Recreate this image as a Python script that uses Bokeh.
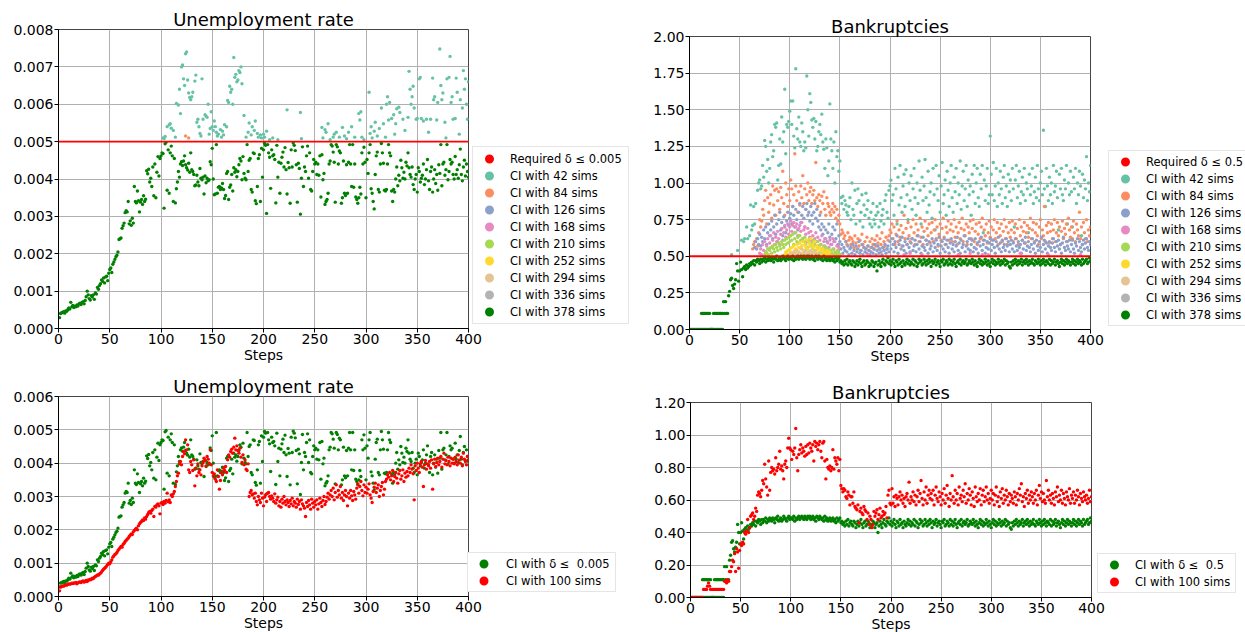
import numpy as np
from bokeh.plotting import figure
from bokeh.models import Range1d, FixedTicker, NumeralTickFormatter, Span, Legend, LegendItem
from bokeh.layouts import column, row
from bokeh.embed import file_html
from bokeh.resources import INLINE

_ = None  # step where the series is not visible

# ---------------- data ----------------
x_ticks = [0, 50, 100, 150, 200, 250, 300, 350, 400]
unemp_ticks = [0.0, 0.001, 0.002, 0.003, 0.004, 0.005, 0.006, 0.007, 0.008]
unemp_ticks_b = [0.0, 0.001, 0.002, 0.003, 0.004, 0.005, 0.006]
bank_ticks = [0.0, 0.25, 0.5, 0.75, 1.0, 1.25, 1.5, 1.75, 2.0]
bank_ticks_b = [0.0, 0.2, 0.4, 0.6, 0.8, 1.0, 1.2]
unemp_required = 0.005
bank_required = 0.5
UNEMP_UNIT = 1e-5   # unemployment values below are in units of 1e-5
BANK_UNIT = 0.01    # bankruptcy values below are in units of 0.01

# Unemployment, CI with 378 sims (also "CI with delta <= 0.005"), steps 1..400
unemp_378 = [
    29, 40, 42, 43, 45, 41, 47, 46, 50, 55, 52, 70, 58, 62, 56, 60, 58, 63, 60, 66,
    68, 64, 70, 72, 66, 75, 85, 100, 90, 80, 76, 88, 84, 90, 78, 95, 92, 110, 105, 115,
    120, 130, 126, 135, 122, 138, 140, 128, 148, 158, 162, 150, 172, 178, 185, 192, 196, 205, 238, 240,
    242, 268, 275, 282, 310, 315, 312, 340, 280, 288, 276, 295, 282, 380, 340, 336, 368, 342, 312, 338,
    345, 332, 355, 340, 346, 422, 414, 426, 392, 402, 380, 432, 355, 440, 350, 418, 460, 408, 455, 462,
    470, 468, 322, 494, 498, 370, 478, 362, 470, 488, 462, 340, 455, 336, 374, 392, 420, 405, 440, 446,
    436, 448, 462, 438, 430, 424, 442, 418, 470, 425, 420, 412, 382, 384, 410, 392, 382, 428, 402, 398,
    405, 360, 408, 390, 402, 395, 398, 446, 438, 482, 400, 358, 360, 492, 362, 378, 380, 372, 376, 388,
    372, 348, 356, 415, 420, 345, 378, 384, 412, 368, 430, 418, 425, 406, 420, 438, 455, 448, 398, 460,
    415, 402, 398, 492, 420, 450, 455, 372, 365, 470, 468, 342, 334, 380, 455, 465, 340, 482, 405, 478,
    495, 490, 308, 492, 470, 458, 375, 478, 462, 465, 452, 336, 490, 405, 445, 362, 442, 458, 472, 432,
    484, 425, 360, 444, 430, 335, 478, 432, 496, 490, 476, 438, 338, 442, 428, 306, 402, 486, 380, 432,
    420, 462, 488, 402, 470, 372, 368, 420, 452, 440, 445, 412, 440, 410, 462, 352, 465, 398, 415, 332,
    340, 345, 362, 440, 448, 492, 488, 472, 445, 338, 492, 486, 440, 475, 470, 335, 350, 448, 362, 356,
    438, 362, 445, 492, 440, 380, 492, 378, 440, 352, 345, 335, 350, 378, 360, 470, 440, 485, 445, 350,
    452, 415, 470, 492, 374, 362, 340, 320, 412, 462, 472, 372, 365, 440, 495, 470, 442, 370, 368, 372,
    440, 492, 470, 462, 368, 340, 372, 365, 400, 432, 382, 410, 395, 450, 430, 402, 418, 400, 445, 435,
    470, 430, 412, 405, 432, 385, 372, 400, 412, 365, 430, 420, 392, 402, 410, 440, 385, 400, 425, 452,
    395, 372, 420, 432, 365, 400, 425, 388, 412, 370, 438, 415, 492, 382, 440, 445, 410, 425, 492, 398,
    420, 452, 440, 445, 412, 400, 460, 412, 425, 402, 438, 480, 412, 395, 432, 450, 408, 440, 420, 405,
]

# Unemployment, CI with 42 sims, steps 101..400 (shown only above the requirement)
unemp_42_start = 101
unemp_42 = [
    _, 510, 508, 514, _, 540, _, 545, 548, 536, _, 530, _, 512, 602, _, 598, 640, 575, 700,
    705, 668, 650, 735, 740, 665, 630, 618, 612, 620, 632, _, 662, 678, 552, 560, 540, 522, 515, 668,
    560, _, 572, 568, 565, 600, 520, 535, 580, 540, 530, 555, 540, 525, 515, 520, _, 532, 512, 528,
    518, 545, _, 540, 610, 605, 648, 632, 640, 600, 725, 672, 680, 660, 665, 690, 685, 700, 655, _,
    570, _, 512, _, 525, 550, _, 518, 540, _, 530, 555, _, 522, 512, _, 518, 510, _, 520,
    512, _, 528, _, _, 505, _, _, 510, _, _, _, _, 505, _, _, _, _, _, _,
    _, _, 585, _, _, _, _, _, _, _, _, _, _, _, _, 578, 508, _, _, _,
    _, _, _, _, _, _, _, _, _, _, _, _, _, _, _, _, 538, 510, _, 532,
    525, _, 548, _, 505, _, _, 512, 520, _, 525, _, _, 512, _, _, 538, _, 515, _,
    508, _, 525, _, _, 540, _, _, 512, _, _, _, 575, 558, 580, 512, _, 505, _, _,
    _, _, 632, 522, 540, 510, _, 528, 552, _, 515, _, 535, _, 590, _, 548, _, 512, 600,
    620, 558, 605, _, 562, _, 572, 520, 548, 588, _, 592, 578, _, _, 560, _, 530, _, _,
    565, 688, 640, 600, 620, 648, 590, _, 560, 562, _, 668, 672, 562, _, 555, _, _, 560, _,
    525, _, 560, _, 670, 612, 620, _, 558, 605, _, 748, 650, 612, 630, _, 552, 510, 668, _,
    672, 728, 605, 620, 560, _, 562, 670, 632, _, 520, 612, _, 590, 690, 640, 668, 600, 560, 660,
]

# Unemployment, CI with 84 sims (only two points visible)
unemp_84_steps = [124, 127]
unemp_84 = [515, 510]

# Unemployment, CI with 100 sims, steps 1..400
unemp_100 = [
    17, 28, 30, 32, 31, 33, 35, 34, 36, 38, 37, 38, 40, 39, 41, 40, 42, 38, 41, 43,
    44, 42, 45, 47, 43, 46, 48, 45, 50, 49, 52, 51, 55, 54, 58, 60, 62, 65, 64, 68,
    70, 74, 78, 82, 85, 88, 92, 96, 100, 98, 104, 110, 118, 122, 126, 128, 132, 138, 142, 146,
    150, 148, 156, 160, 165, 168, 172, 175, 180, 184, 188, 186, 194, 198, 202, 205, 200, 212, 218, 222,
    225, 230, 228, 236, 232, 240, 246, 252, 255, 250, 258, 262, 240, 270, 268, 275, 278, 272, 248, 280,
    282, 276, 285, 280, 288, 310, 284, 290, 282, 305, 300, 308, 315, 330, 345, 362, 370, 398, 405, 395,
    420, 435, 428, 470, 440, 455, 380, 372, 405, 395, 378, 410, 332, 385, 362, 398, 372, 380, 365, 392,
    402, 415, 408, 392, 420, 412, 400, 440, 395, 372, 362, 368, 352, 345, 380, 360, 322, 348, 372, 365,
    385, 378, 390, 372, 410, 425, 418, 435, 442, 430, 448, 475, 440, 452, 438, 430, 445, 418, 402, 425,
    395, 410, 382, 378, 398, 300, 312, 318, 305, 308, 295, 310, 285, 275, 300, 290, 282, 310, 295, 272,
    298, 305, 285, 310, 312, 300, 292, 302, 295, 285, 308, 280, 290, 298, 272, 285, 268, 292, 280, 300,
    285, 275, 290, 282, 270, 288, 278, 295, 272, 285, 280, 268, 292, 276, 285, 262, 290, 278, 272, 265,
    240, 282, 270, 288, 275, 262, 292, 280, 268, 285, 275, 290, 262, 278, 295, 282, 270, 288, 300, 276,
    285, 298, 310, 292, 305, 318, 300, 325, 290, 312, 335, 298, 318, 305, 330, 295, 312, 288, 305, 318,
    300, 272, 310, 295, 318, 302, 288, 315, 305, 292, 325, 338, 310, 330, 345, 318, 302, 335, 312, 328,
    310, 322, 338, 305, 295, 282, 315, 328, 340, 312, 325, 335, 300, 318, 330, 342, 305, 322, 345, 352,
    365, 358, 372, 350, 362, 378, 345, 360, 372, 355, 340, 368, 378, 352, 362, 380, 345, 370, 358, 375,
    362, 385, 372, 395, 382, 368, 290, 392, 378, 400, 385, 372, 398, 405, 388, 330, 395, 408, 382, 398,
    392, 405, 385, 410, 322, 398, 412, 390, 402, 415, 395, 405, 420, 388, 412, 430, 398, 408, 395, 418,
    405, 392, 415, 400, 412, 398, 418, 405, 395, 425, 410, 400, 418, 392, 430, 412, 405, 395, 420, 410,
]

# Bankruptcies, CI with 378 sims (also "CI with delta <= 0.5"), steps 1..400
bank_378 = [
    0, 0, 0, 0, 0, 0, 0, 0, 0, 0, 0, 11, 11, 11, 11, 11, 11, 11, 11, 11,
    0, 0, 0, 11, 11, 11, 11, 11, 11, 11, 11, 11, 11, 19, 11, 19, 11, 11, 23, 26,
    34, 35, 30, 28, 31, 34, 45, 40, 33, 40, 46, 41, 36, 42, 43, 41, 44, 42, 43, 45,
    44, 46, 45, 47, 44, 47, 46, 48, 47, 45, 48, 46, 48, 47, 49, 46, 48, 47, 49, 48,
    47, 49, 48, 46, 49, 48, 50, 47, 48, 49, 47, 48, 50, 49, 48, 47, 49, 50, 48, 49,
    49, 48, 50, 47, 49, 48, 49, 50, 48, 49, 50, 49, 48, 50, 49, 48, 50, 49, 50, 48,
    49, 50, 48, 49, 47, 50, 49, 48, 50, 49, 48, 49, 47, 50, 48, 49, 47, 48, 49, 47,
    48, 49, 47, 48, 46, 49, 47, 48, 49, 46, 47, 45, 46, 44, 47, 45, 48, 44, 46, 47,
    45, 44, 47, 46, 43, 45, 47, 44, 46, 48, 45, 43, 46, 47, 44, 45, 47, 46, 43, 45,
    44, 47, 46, 43, 45, 46, 40, 44, 47, 45, 43, 46, 48, 45, 44, 47, 46, 49, 45, 47,
    44, 46, 48, 45, 43, 47, 46, 44, 48, 45, 46, 43, 47, 45, 44, 46, 48, 45, 47, 44,
    46, 45, 48, 44, 47, 46, 43, 45, 48, 46, 47, 44, 45, 48, 46, 44, 47, 45, 48, 46,
    43, 47, 45, 46, 48, 44, 46, 47, 45, 43, 47, 46, 48, 44, 45, 47, 46, 44, 48, 45,
    47, 44, 46, 48, 45, 43, 46, 47, 45, 48, 44, 46, 47, 45, 46, 48, 44, 45, 47, 46,
    45, 48, 46, 44, 47, 45, 43, 46, 48, 45, 47, 44, 46, 45, 48, 46, 44, 47, 45, 43,
    46, 48, 45, 47, 44, 46, 45, 48, 46, 44, 47, 45, 46, 48, 44, 47, 45, 46, 43, 42,
    46, 44, 47, 45, 48, 46, 44, 47, 45, 46, 48, 44, 46, 47, 45, 48, 46, 44, 47, 45,
    46, 48, 45, 44, 47, 46, 45, 48, 46, 44, 47, 45, 48, 46, 44, 47, 46, 45, 48, 44,
    47, 45, 46, 48, 44, 46, 47, 45, 43, 46, 48, 45, 47, 44, 46, 48, 45, 47, 46, 44,
    46, 48, 45, 47, 44, 46, 48, 45, 47, 46, 44, 48, 45, 46, 47, 48, 45, 46, 49, 47,
]
# second (zero) row of the same series at the first steps
bank_378_low_start = 12
bank_378_low = [0, 0, 0, 0, 0, 0, 0, 0, 0, 0, 0, 0, 0, 0, 0, 0, 0, 0, 0, 0, 0, 0]

# Bankruptcies, CI with 42 sims, steps 41..400
bank_42_start = 41
bank_42 = [
    _, 51, _, _, _, _, _, 54, _, _, _, 61, _, 60, 62, _, 70, 62, _, 64,
    85, 68, 71, 84, 72, 86, _, 95, 100, 102, 96, 98, 112, 104, 129, 125, 108, 116, 100, 110,
    128, 133, 118, 122, 140, 138, 141, 102, 112, 130, 113, 145, 128, 135, 164, 120, 140, 138, 142, 149,
    156, 140, 156, 132, 124, 178, 137, 130, 145, 128, 125, 141, 135, 122, 128, 124, 173, 150, 132, 161,
    155, 143, 138, 144, 130, 142, 122, 125, 135, 140, 133, 147, 128, 123, 110, 130, 124, 105, 115, 154,
    130, 122, 110, 128, 100, 135, 118, 122, 108, 115, 90, 86, 91, 82, 88, 85, 80, 78, 84, 90,
    75, 100, 82, 78, 95, 72, 86, 96, 88, 74, 80, 92, 70, 85, 78, 93, 82, 88, 76, 72,
    80, 70, 86, 75, 72, 78, 84, 80, 70, 86, 74, 78, 82, 72, 88, 92, 80, 76, 95, 98,
    102, 88, 92, 78, 110, 96, 72, 104, 85, 112, 90, 80, 98, 106, 84, 109, 92, 75, 100, 88,
    105, 82, 96, 110, 90, 78, 100, 86, 115, 95, 72, 104, 88, 98, 116, 90, 80, 108, 85, 94,
    100, 76, 110, 92, 68, 112, 96, 88, 105, 80, 98, 114, 86, 92, 102, 78, 108, 95, 84, 100,
    112, 90, 80, 104, 94, 110, 86, 100, 92, 115, 82, 98, 108, 88, 96, 112, 84, 102, 92, 98,
    78, 106, 94, 112, 86, 100, 110, 90, 84, 106, 96, 112, 66, 102, 88, 98, 110, 86, 92, 132,
    106, 92, 114, 88, 98, 110, 84, 100, 92, 108, 96, 86, 104, 112, 90, 98, 84, 106, 94, 102,
    88, 110, 96, 70, 102, 112, 90, 98, 108, 86, 94, 104, 92, 110, 88, 100, 96, 66, 106, 92,
    98, 110, 86, 94, 104, 90, 112, 96, 88, 100, 108, 92, 136, 96, 84, 110, 98, 88, 104, 92,
    100, 86, 112, 94, 98, 108, 90, 68, 106, 96, 110, 92, 88, 102, 96, 112, 72, 100, 92, 108,
    94, 70, 104, 96, 110, 86, 100, 92, 108, 98, 64, 106, 90, 102, 96, 118, 88, 100, 94, 112,
]

# Bankruptcies, CI with 84 sims, steps 61..400
bank_84_start = 61
bank_84 = [
    _, _, 55, 58, 60, _, 62, 57, 66, 75, 70, 74, 82, 78, 88, 95, 72, 90, 80, 86,
    92, 76, 98, 85, 95, 78, 96, 88, 94, 82, 97, 90, 108, 86, 78, 100, 92, 84, 96, 88,
    102, 96, 84, 92, 120, 98, 88, 80, 94, 85, 98, 90, 105, 86, 96, 82, 92, 100, 88, 94,
    97, 86, 92, 95, 88, 114, 90, 84, 92, 88, 80, 91, 86, 94, 82, 78, 90, 86, 84, 80,
    78, 82, 86, 80, 84, 76, 82, 74, 78, 72, 65, 68, 66, 62, 64, 60, 58, 66, 61, 63,
    58, 62, 60, 56, 64, 59, 55, 62, 57, 61, 54, 65, 58, 56, 60, 55, 63, 57, 54, 60,
    56, 62, 58, 55, 61, 57, 64, 59, 55, 62, 58, 66, 56, 60, 57, 63, 55, 61, 64, 68,
    66, 72, 62, 70, 58, 65, 74, 60, 68, 63, 71, 57, 66, 78, 62, 69, 58, 73, 64, 60,
    70, 62, 75, 66, 58, 72, 64, 68, 60, 76, 63, 70, 58, 67, 74, 61, 69, 64, 72, 59,
    66, 73, 60, 68, 75, 62, 70, 57, 65, 72, 61, 69, 76, 63, 58, 70, 66, 74, 61, 68,
    72, 60, 67, 75, 63, 70, 58, 66, 73, 62, 69, 76, 60, 68, 64, 72, 58, 70, 66, 74,
    62, 69, 75, 60, 67, 72, 58, 65, 73, 62, 70, 76, 61, 68, 64, 72, 59, 66, 74, 63,
    70, 61, 68, 75, 62, 66, 73, 58, 69, 64, 72, 60, 67, 75, 62, 70, 58, 66, 73, 63,
    68, 74, 60, 66, 72, 62, 69, 58, 75, 64, 70, 61, 67, 73, 59, 66, 71, 63, 69, 76,
    62, 68, 73, 60, 66, 72, 64, 58, 70, 75, 62, 68, 64, 84, 60, 71, 66, 73, 59, 67,
    72, 62, 68, 75, 60, 66, 73, 64, 70, 58, 67, 74, 62, 69, 65, 72, 60, 76, 68, 63,
    70, 62, 74, 66, 60, 72, 68, 64, 80, 62, 70, 58, 73, 66, 62, 75, 60, 68, 64, 70,
]

# Bankruptcies, CI with 126 sims, steps 65..400
bank_126_start = 65
bank_126 = [
    56, 60, 55, 62, 58, 65, 57, 63, 60, 68, 62, 70, 58, 66, 72, 64,
    68, 74, 62, 70, 78, 65, 72, 60, 75, 80, 68, 73, 64, 77, 70, 66, 74, 80, 71, 76,
    79, 72, 84, 78, 70, 82, 75, 68, 80, 86, 73, 78, 84, 76, 70, 82, 86, 78, 80, 74,
    84, 78, 72, 80, 86, 76, 82, 74, 70, 78, 68, 72, 65, 70, 62, 68, 60, 66, 72, 63,
    58, 65, 70, 60, 68, 62, 72, 58, 64, 60, 55, 58, 52, 56, 54, 60, 53, 57, 51, 55,
    56, 52, 58, 54, 51, 57, 53, 55, 60, 52, 54, 58, 51, 56, 53, 55, 52, 57, 54, 51,
    53, 56, 52, 55, 58, 51, 54, 57, 52, 55, 53, 51, 56, 54, 58, 52, 55, 57, 53, 60,
    55, 62, 58, 53, 60, 56, 64, 52, 58, 61, 55, 63, 57, 54, 60, 52, 58, 62, 56, 53,
    59, 62, 54, 57, 61, 53, 58, 64, 55, 60, 52, 57, 63, 56, 54, 61, 58, 52, 60, 55,
    57, 62, 53, 59, 56, 61, 54, 58, 63, 52, 57, 60, 55, 62, 53, 58, 61, 56, 52, 59,
    62, 55, 58, 53, 60, 57, 63, 54, 59, 52, 61, 56, 58, 64, 53, 57, 60, 55, 62, 54,
    58, 61, 53, 56, 62, 55, 59, 52, 60, 57, 63, 54, 58, 61, 52, 56, 60, 55, 59, 62,
    54, 58, 61, 56, 52, 60, 57, 63, 55, 59, 53, 61, 56, 58, 54, 62, 57, 60, 53, 58,
    61, 55, 59, 53, 62, 57, 54, 60, 56, 58, 52, 61, 55, 59, 63, 54, 57, 60, 56, 53,
    58, 62, 55, 59, 52, 61, 57, 54, 60, 56, 63, 53, 58, 61, 55, 59, 52, 57, 60, 56,
    54, 59, 62, 56, 53, 60, 57, 61, 55, 58, 52, 59, 63, 56, 54, 60, 57, 55, 61, 53,
    58, 61, 55, 52, 59, 57, 62, 54, 60, 56, 53, 58, 61, 55, 59, 62, 56, 54, 60, 58,
]

# Bankruptcies, CI with 168 sims, steps 70..150 plus a few later points
bank_168_start = 70
bank_168 = [
    52, 55, 51, 58, 54, 60, 53, 57, 62, 55, 59, 64, 56, 61, 66, 58, 63, 60, 67, 62,
    58, 65, 69, 61, 66, 71, 63, 68, 72, 65, 70, 74, 67, 71, 73, 66, 70, 72, 64, 69,
    71, 67, 73, 62, 68, 70, 65, 60, 69, 66, 63, 67, 61, 64, 58, 62, 66, 60, 63, 57,
    61, 58, 64, 55, 60, 57, 62, 54, 59, 56, 61, 53, 58, 62, 55, 60, 52, 57, 54, 56, 51,
]
bank_168_late_steps = [178, 214, 220, 232, 268, 280, 292, 298, 330, 358, 390]
bank_168_late = [51, 51, 52, 51, 51, 52, 51, 51, 52, 51, 51]

# Bankruptcies, CI with 210 sims, steps 75..150
bank_210_start = 75
bank_210 = [
    51, 53, 52, 55, 51, 54, 56, 52, 57, 55, 53, 58, 56, 54, 59, 57, 55, 60, 58, 56,
    61, 58, 62, 59, 63, 60, 64, 61, 65, 58, 62, 66, 60, 63, 59, 64, 61, 57, 62, 60,
    63, 58, 61, 56, 60, 62, 57, 59, 55, 61, 58, 54, 57, 60, 56, 53, 58, 55, 52, 57,
    54, 56, 52, 55, 53, 51, 54, 52, 55, 51, 53, 52, 51, 54, 52, 51,
]

# Bankruptcies, CI with 252 sims, steps 95..140
bank_252_start = 95
bank_252 = [
    51, 53, 52, 54, 51, 55, 53, 56, 52, 57, 54, 55, 58, 53, 56, 59, 55, 57, 60, 54,
    58, 56, 61, 55, 59, 57, 62, 54, 58, 56, 60, 53, 57, 55, 52, 56, 54, 51, 55, 53,
    52, 51, 54, 52, 51, 53,
]

# Bankruptcies, CI with 294 sims, steps 100..130
bank_294_start = 100
bank_294 = [
    51, 50, 52, 51, 53, 50, 52, 54, 51, 53, 50, 52, 55, 51, 53, 52, 54, 50, 52, 53,
    51, 54, 52, 50, 53, 51, 52, 50, 51, 52, 50,
]

# Bankruptcies, CI with 100 sims, steps 1..400
bank_100 = [
    0, 0, 0, 0, 0, 0, 0, 0, 0, 0, 0, 0, 5, 5, 5, 5, 7, 9, 7, 5,
    5, 5, 5, 5, 5, 5, 5, 5, 5, 5, 5, 5, 5, 10, 10, 9, 11, 10, 16, 16,
    19, 23, 22, 27, 16, 30, 28, 18, 29, 33, 32, 34, 33, 40, 39, 41, 48, 40, 43, 50,
    51, 52, 48, 50, 55, 53, 63, 65, 64, 62, 66, 72, 70, 82, 73, 68, 63, 84, 66, 77,
    80, 78, 79, 76, 86, 78, 80, 82, 90, 79, 81, 78, 73, 82, 84, 80, 92, 98, 92, 91,
    85, 90, 88, 92, 104, 86, 78, 88, 91, 94, 89, 92, 90, 87, 93, 88, 94, 89, 95, 92,
    90, 94, 84, 96, 93, 95, 91, 94, 96, 90, 86, 95, 96, 84, 73, 85, 80, 79, 81, 78,
    80, 91, 79, 86, 84, 82, 86, 78, 85, 69, 67, 65, 67, 66, 62, 61, 65, 63, 57, 62,
    62, 58, 65, 56, 55, 54, 57, 46, 53, 55, 52, 51, 56, 54, 53, 48, 52, 45, 50, 48,
    43, 45, 53, 50, 52, 54, 48, 51, 55, 49, 50, 53, 51, 52, 56, 49, 63, 66, 58, 57,
    67, 58, 62, 56, 63, 61, 57, 62, 65, 60, 63, 58, 61, 56, 62, 64, 60, 71, 58, 62,
    60, 65, 59, 63, 57, 62, 66, 59, 64, 72, 61, 57, 65, 60, 68, 58, 63, 66, 61, 64,
    60, 66, 57, 63, 68, 61, 59, 65, 62, 57, 64, 60, 67, 58, 63, 69, 61, 56, 64, 60,
    75, 62, 58, 66, 60, 64, 57, 68, 61, 63, 59, 66, 62, 70, 58, 64, 60, 67, 63, 57,
    65, 61, 56, 68, 62, 59, 64, 60, 67, 57, 63, 66, 59, 62, 68, 60, 64, 58, 61, 66,
    60, 64, 57, 63, 68, 59, 62, 56, 65, 61, 67, 58, 63, 60, 66, 62, 57, 64, 59, 63,
    61, 58, 65, 62, 57, 64, 60, 67, 63, 70, 59, 62, 56, 64, 61, 66, 58, 63, 60, 65,
    62, 58, 64, 60, 66, 57, 63, 69, 61, 65, 59, 64, 60, 58, 72, 62, 66, 60, 63, 58,
    64, 61, 57, 65, 62, 68, 59, 63, 60, 66, 58, 64, 61, 57, 65, 62, 60, 67, 58, 63,
    61, 65, 58, 63, 60, 66, 62, 57, 64, 61, 59, 65, 62, 60, 63, 58, 61, 66, 59, 62,
]

sims_labels = ["CI with 42 sims", "CI with 84 sims", "CI with 126 sims", "CI with 168 sims",
               "CI with 210 sims", "CI with 252 sims", "CI with 294 sims", "CI with 336 sims",
               "CI with 378 sims"]
sims_colors = ["#66c2a5", "#fc8d62", "#8da0cb", "#e78ac3", "#a6d854", "#ffd92f",
               "#e5c494", "#b3b3b3", "green"]

# ---------------- helpers ----------------
FONT = "DejaVu Sans"
DOT = 3.4
NAN = float("nan")
B_TOP, B_BOTTOM = 29, 45   # same top/bottom borders everywhere; offsets come from margins


def run(start, vals, unit):
    xs, ys = [], []
    for i, v in enumerate(vals):
        if v is not None:
            xs.append(start + i)
            ys.append(v * unit)
    return xs, ys


def sparse(steps, vals, unit):
    return list(steps), [v * unit for v in vals]


def join(*parts):
    xs, ys = [], []
    for a, b in parts:
        xs += a
        ys += b
    return xs, ys


def make_fig(left, frame_w, right, frame_h, ymax, yticks, yfmt, title, shift=0):
    p = figure(width=left + frame_w + right, height=B_TOP + frame_h + B_BOTTOM,
               min_border_left=left, min_border_top=B_TOP, min_border_right=right,
               min_border_bottom=B_BOTTOM, output_backend="svg", toolbar_location=None,
               x_range=Range1d(0, 400), y_range=Range1d(0, ymax), title=title,
               background_fill_color="white", border_fill_color="white",
               margin=(shift, 0, 0, 0))
    p.title.text_font = FONT
    p.title.text_font_size = "18px"
    p.title.text_font_style = "normal"
    p.title.text_color = "black"
    p.title.align = "center"
    p.title.standoff = 0
    p.title.offset = 0
    p.xaxis.ticker = FixedTicker(ticks=x_ticks)
    p.yaxis.ticker = FixedTicker(ticks=yticks)
    p.yaxis.formatter = NumeralTickFormatter(format=yfmt)
    for ax in (p.xaxis[0], p.yaxis[0]):
        ax.major_label_text_font = FONT
        ax.major_label_text_font_size = "14px"
        ax.major_label_text_color = "black"
        ax.major_tick_out = 4
        ax.major_tick_in = 0
        ax.minor_tick_out = 0
        ax.minor_tick_in = 0
        ax.axis_line_color = "black"
        ax.major_tick_line_color = "black"
        ax.major_label_standoff = 1
    p.xaxis.axis_label = "Steps"
    p.xaxis.axis_label_text_font = FONT
    p.xaxis.axis_label_text_font_size = "14px"
    p.xaxis.axis_label_text_font_style = "normal"
    p.xaxis.axis_label_text_color = "black"
    p.xaxis.axis_label_standoff = 0
    p.grid.grid_line_color = "#b0b0b0"
    p.grid.grid_line_width = 1
    p.outline_line_color = "#444444"
    return p


def dots(p, xy, color):
    return p.scatter(x=xy[0], y=xy[1], size=DOT, fill_color=color, line_color=None)


def key_box(entries, left, top, w, h, padding, gw, standoff, lw):
    """A transparent strip laid over the page that holds one chart's legend."""
    f = figure(width=w, height=h, min_border=0, output_backend="svg", toolbar_location=None,
               x_axis_location=None, y_axis_location=None, x_range=Range1d(0, 1),
               y_range=Range1d(0, 1), outline_line_color=None,
               background_fill_alpha=0, border_fill_alpha=0,
               styles={"position": "absolute", "left": f"{left}px", "top": f"{top}px",
                       "z-index": "5"})
    f.grid.visible = False
    items = []
    for lab, col in entries:
        # legend-only marker: its single point has no position, so nothing is drawn
        r = f.scatter(x=[NAN], y=[NAN], size=DOT, fill_color=col, line_color=col, line_width=2.2)
        items.append(LegendItem(label=lab, renderers=[r]))
    f.add_layout(Legend(items=items, location="top_left", orientation="vertical",
                        padding=padding, spacing=0, glyph_width=gw, glyph_height=17,
                        label_standoff=standoff, label_width=lw, label_height=17,
                        label_text_font=FONT, label_text_font_size="11.5px",
                        label_text_color="black", border_line_color="#cccccc",
                        border_line_width=1, background_fill_color="white",
                        background_fill_alpha=1, margin=0), "center")
    return f


# ---------------- top left: unemployment ----------------
tl = make_fig(58, 410, 172, 299, 0.008, unemp_ticks, "0.000", "Unemployment rate")
tl_series = [
    run(unemp_42_start, unemp_42, UNEMP_UNIT),
    sparse(unemp_84_steps, unemp_84, UNEMP_UNIT),
    ([], []), ([], []), ([], []), ([], []), ([], []), ([], []),
    run(1, unemp_378, UNEMP_UNIT),
]
for xy, c in zip(tl_series, sims_colors):
    dots(tl, xy, c)
tl.add_layout(Span(location=unemp_required, dimension="width", line_color="red", line_width=1.8))
tl_key = key_box([("Required δ ≤ 0.005", "red")] + list(zip(sims_labels, sims_colors)),
                 472, 146, 157, 178, 3, 26, 8, 115)

# ---------------- top right: bankruptcies ----------------
tr = make_fig(49, 401, 155, 293, 2.0, bank_ticks, "0.00", "Bankruptcies", shift=7)
tr_series = [
    run(bank_42_start, bank_42, BANK_UNIT),
    run(bank_84_start, bank_84, BANK_UNIT),
    run(bank_126_start, bank_126, BANK_UNIT),
    join(run(bank_168_start, bank_168, BANK_UNIT), sparse(bank_168_late_steps, bank_168_late, BANK_UNIT)),
    run(bank_210_start, bank_210, BANK_UNIT),
    run(bank_252_start, bank_252, BANK_UNIT),
    run(bank_294_start, bank_294, BANK_UNIT),
    ([], []),
    join(run(bank_378_low_start, bank_378_low, BANK_UNIT), run(1, bank_378, BANK_UNIT)),
]
for xy, c in zip(tr_series, sims_colors):
    dots(tr, xy, c)
tr.add_layout(Span(location=bank_required, dimension="width", line_color="red", line_width=1.8))
tr_key = key_box([("Required δ ≤ 0.5", "red")] + list(zip(sims_labels, sims_colors)),
                 1108, 150, 137, 176, 2, 28, 7, 97)

# ---------------- bottom left: unemployment ----------------
bl = make_fig(58, 410, 172, 200, 0.006, unemp_ticks_b, "0.000", "Unemployment rate")
dots(bl, run(1, unemp_378, UNEMP_UNIT), "green")
dots(bl, run(1, unemp_100, UNEMP_UNIT), "red")
bl_key = key_box([("CI with δ ≤  0.005", "green"), ("CI with 100 sims", "red")],
                 467, 552, 149, 40, 2, 27, 9, 107)

# ---------------- bottom right: bankruptcies ----------------
br = make_fig(50, 401, 154, 195, 1.2, bank_ticks_b, "0.00", "Bankruptcies", shift=6)
dots(br, join(run(bank_378_low_start, bank_378_low, BANK_UNIT), run(1, bank_378, BANK_UNIT)), "green")
dots(br, run(1, bank_100, BANK_UNIT), "red")
br_key = key_box([("CI with δ ≤  0.5", "green"), ("CI with 100 sims", "red")],
                 1097, 553, 139, 40, 2, 28, 7, 98)

layout = column(row(tl, tr), row(bl, br, margin=(-7, 0, 0, 0)),
                tl_key, tr_key, bl_key, br_key)
open("out.html", "w").write(file_html(layout, INLINE))
